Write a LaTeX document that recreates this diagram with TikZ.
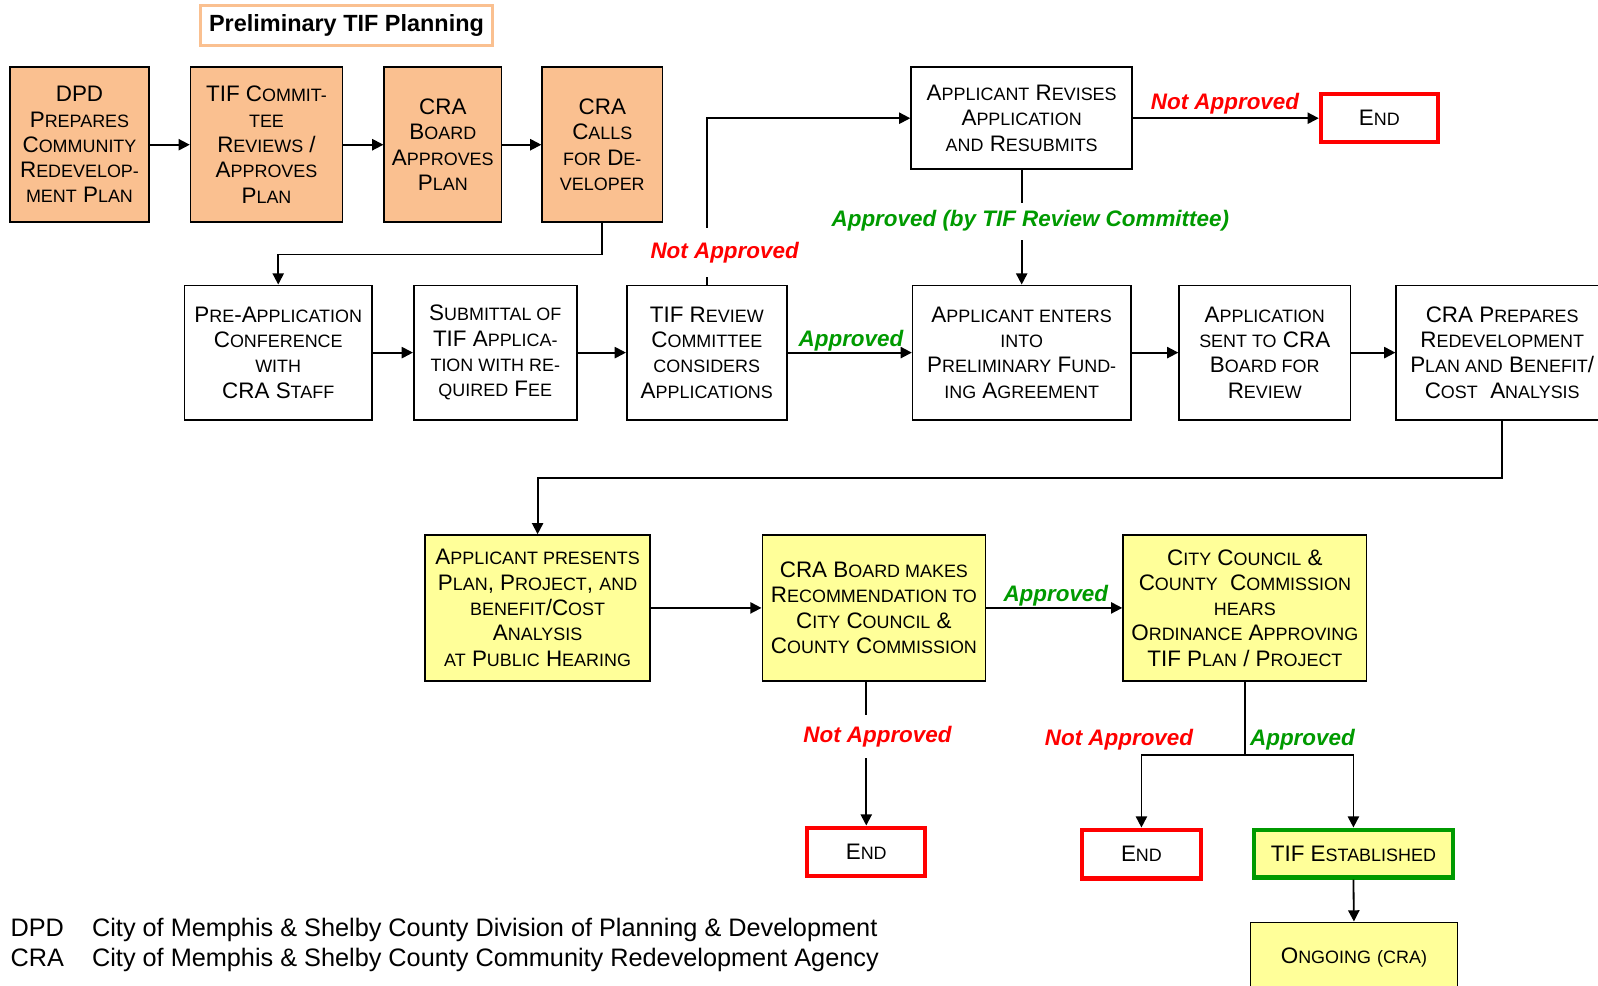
\documentclass[tikz,border=0pt]{standalone}
\usepackage{fontspec}
\setmainfont{Liberation Sans}
\usetikzlibrary{arrows.meta}
\definecolor{boxorange}{HTML}{FAC090}
\definecolor{boxyellow}{HTML}{FFFF99}
\definecolor{nored}{HTML}{FF0000}
\definecolor{okgreen}{HTML}{009A00}
\newcommand\smc[1]{{\fontsize{8.8}{12.4}\selectfont #1}}
\begin{document}
\begin{tikzpicture}[x=0.5pt,y=-0.5pt,
  box/.style={draw=black, line width=0.8pt, align=center, inner sep=0pt, font=\fontsize{11}{12.4}\selectfont},
  obox/.style={box, fill=boxorange},
  wbox/.style={box, fill=white},
  ybox/.style={box, fill=boxyellow},
  endbox/.style={box, fill=white, draw=nored, line width=2pt},
  estbox/.style={box, fill=boxyellow, draw=okgreen, line width=2pt},
  conn/.style={line width=0.9pt, -{Triangle[length=5.5pt,width=5.5pt]}},
  nolab/.style={text=nored, font=\bfseries\itshape\fontsize{11}{13}\selectfont, inner xsep=1pt, inner ysep=1pt},
  oklab/.style={text=okgreen, font=\bfseries\itshape\fontsize{11}{13}\selectfont, inner xsep=1pt, inner ysep=1pt},
  legend/.style={anchor=base west, inner sep=0pt, font=\fontsize{12.4}{14}\selectfont}]
\useasboundingbox[fill=white] (0,0) rectangle (1568,967);

% title
\node[draw=boxorange, line width=1.5pt, fill=white, minimum width=143pt, minimum height=19.5pt, inner sep=0pt,
      font=\bfseries\fontsize{11.5}{13}\selectfont] (title) at (340,25) {Preliminary TIF Planning};

% row 1
\node[obox, minimum width=68pt, minimum height=76pt] (dpd) at (78,142)
  {DPD\\P\smc{REPARES}\\C\smc{OMMUNITY}\\R\smc{EDEVELOP-}\\\smc{MENT} P\smc{LAN}};
\node[obox, minimum width=74.5pt, minimum height=76pt] (tifc) at (261.5,142)
  {TIF C\smc{OMMIT-}\\\smc{TEE}\\R\smc{EVIEWS} /\\A\smc{PPROVES}\\P\smc{LAN}};
\node[obox, minimum width=57.5pt, minimum height=76pt] (crab) at (434.5,142)
  {CRA\\B\smc{OARD}\\A\smc{PPROVES}\\P\smc{LAN}};
\node[obox, minimum width=59pt, minimum height=76pt] (crac) at (591,142)
  {CRA\\C\smc{ALLS}\\\smc{FOR} D\smc{E-}\\\smc{VELOPER}};

% revise + end
\node[wbox, minimum width=108.5pt, minimum height=50pt] (rev) at (1002.5,116)
  {A\smc{PPLICANT} R\smc{EVISES}\\A\smc{PPLICATION}\\\smc{AND} R\smc{ESUBMITS}};
\node[endbox, minimum width=57.5pt, minimum height=23.5pt] (end1) at (1353.5,116)
  {E\smc{ND}};

% row 2
\node[wbox, minimum width=92pt, minimum height=66pt] (pre) at (273,346)
  {P\smc{RE}-A\smc{PPLICATION}\\C\smc{ONFERENCE}\\\smc{WITH}\\CRA S\smc{TAFF}};
\node[wbox, minimum width=80pt, minimum height=66pt] (sub) at (486,346)
  {S\smc{UBMITTAL OF}\\TIF A\smc{PPLICA-}\\\smc{TION WITH RE-}\\\smc{QUIRED} F\smc{EE}};
\node[wbox, minimum width=78.5pt, minimum height=66pt] (tifr) at (693.5,346)
  {TIF R\smc{EVIEW}\\C\smc{OMMITTEE}\\\smc{CONSIDERS}\\A\smc{PPLICATIONS}};
\node[wbox, minimum width=107pt, minimum height=66pt] (ent) at (1002.5,346)
  {A\smc{PPLICANT ENTERS}\\\smc{INTO}\\P\smc{RELIMINARY} F\smc{UND-}\\\smc{ING} A\smc{GREEMENT}};
\node[wbox, minimum width=84pt, minimum height=66pt] (sent) at (1241,346)
  {A\smc{PPLICATION}\\\smc{SENT TO} CRA\\B\smc{OARD FOR}\\R\smc{EVIEW}};
\node[wbox, minimum width=104pt, minimum height=66pt] (prep) at (1474,346)
  {CRA P\smc{REPARES}\\R\smc{EDEVELOPMENT}\\P\smc{LAN AND} B\smc{ENEFIT}/\\C\smc{OST}\ \ A\smc{NALYSIS}};

% row 3
\node[ybox, minimum width=110.5pt, minimum height=71.5pt] (pres) at (527.5,596.5)
  {A\smc{PPLICANT PRESENTS}\\P\smc{LAN}, P\smc{ROJECT}, \smc{AND}\\\smc{BENEFIT}/C\smc{OST}\\A\smc{NALYSIS}\\\smc{AT} P\smc{UBLIC} H\smc{EARING}};
\node[ybox, minimum width=109.5pt, minimum height=71.5pt] (makes) at (857.5,596.5)
  {CRA B\smc{OARD MAKES}\\R\smc{ECOMMENDATION TO}\\C\smc{ITY} C\smc{OUNCIL} \&\\C\smc{OUNTY} C\smc{OMMISSION}};
\node[ybox, minimum width=119.5pt, minimum height=71.5pt] (city) at (1221.5,596.5)
  {C\smc{ITY} C\smc{OUNCIL} \&\\C\smc{OUNTY}\ \ C\smc{OMMISSION}\\\smc{HEARS}\\O\smc{RDINANCE} A\smc{PPROVING}\\TIF P\smc{LAN} / P\smc{ROJECT}};

% bottom
\node[endbox, minimum width=58pt, minimum height=24pt] (end2) at (850,836) {E\smc{ND}};
\node[endbox, minimum width=58pt, minimum height=24pt] (end3) at (1120,838) {E\smc{ND}};
\node[estbox, minimum width=98pt, minimum height=23.5pt] (est) at (1328,837.5) {TIF E\smc{STABLISHED}};
\node[ybox, minimum width=101.5pt, minimum height=35pt] (ong) at (1328.5,940) {O\smc{NGOING} \smc{(CRA)}};

% connectors
\draw[conn] (dpd.east) -- (tifc.west);
\draw[conn] (tifc.east) -- (crab.west);
\draw[conn] (crab.east) -- (crac.west);
\draw[conn] (crac.south) -- ++(0,31) -| (pre.north);
\draw[conn] (pre.east) -- (sub.west);
\draw[conn] (sub.east) -- (tifr.west);
\draw[conn] (tifr.north) |- (rev.west);
\draw[conn] (rev.east) -- (end1.west);
\draw[conn] (rev.south) -- (ent.north);
\draw[conn] (tifr.east) -- (ent.west);
\draw[conn] (ent.east) -- (sent.west);
\draw[conn] (sent.east) -- (prep.west);
\draw[conn] (prep.south) -- ++(0,56) -| (pres.north);
\draw[conn] (pres.east) -- (makes.west);
\draw[conn] (makes.east) -- (city.west);
\draw[conn] (end2.north |- makes.south) -- (end2.north);
\draw[conn] (city.south) -- ++(0,72) -| (end3.north);
\draw[conn] (city.south) -- ++(0,72) -| (est.north);
\draw[conn] (est.south) -- (ong.north);

% labels
\node[nolab, fill=white, inner ysep=7pt] (lna1) at (711,248) {Not Approved};
\node[oklab, fill=white, inner ysep=4pt] (la1) at (1011,217) {Approved (by TIF Review Committee)};
\node[oklab] (la2) at (835,334) {Approved};
\node[nolab] (lna2) at (1202,102) {Not Approved};
\node[oklab] (la3) at (1036,585) {Approved};
\node[nolab, fill=white, inner ysep=5.5pt] (lna3) at (861,723) {Not Approved};
\node[nolab] (lna4) at (1098,726) {Not Approved};
\node[oklab] (la4) at (1278,726) {Approved};

% legend
\node[legend] (lg1a) at (10,919) {DPD};
\node[legend] (lg1b) at (90,919) {City of Memphis \& Shelby County Division of Planning \& Development};
\node[legend] (lg2a) at (10,948) {CRA};
\node[legend] (lg2b) at (90,948) {City of Memphis \& Shelby County Community Redevelopment Agency};
\end{tikzpicture}
\end{document}
